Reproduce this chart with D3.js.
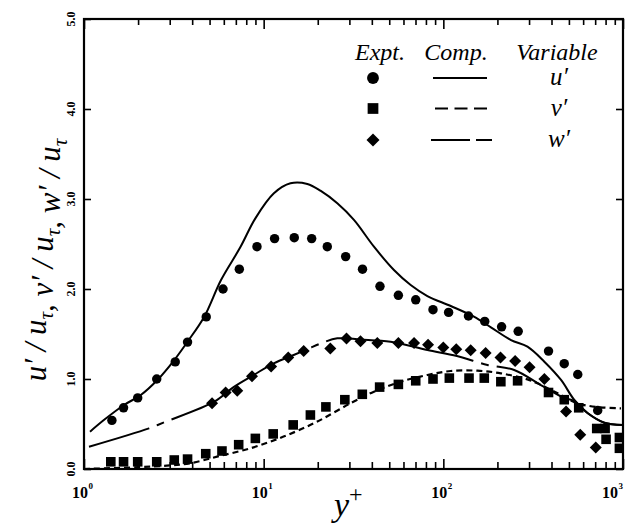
<!DOCTYPE html>
<html><head><meta charset="utf-8">
<script src="https://cdn.jsdelivr.net/npm/d3@7"></script>
<style>body{margin:0;background:#fff}svg{display:block}</style>
</head><body><svg id="c" width="629" height="532"></svg>
<script>
// ---- data ----
const uExptX = [1.43,1.66,1.99,2.54,3.22,3.77,4.79,5.94,7.32,9.18,11.5,14.8,18.5,22.6,28.6,35.5,44.4,56.2,70.2,87.6,107,138,170,211,261,385,471,560,723];
const uExptY = [0.54,0.68,0.79,1.00,1.19,1.41,1.69,2.00,2.22,2.47,2.56,2.57,2.56,2.47,2.36,2.22,2.03,1.93,1.88,1.77,1.74,1.70,1.64,1.58,1.53,1.31,1.17,1.05,0.65];
const vExptX = [1.41,1.66,1.99,2.54,3.18,3.77,4.76,5.86,7.26,8.99,11.3,14.6,18.2,22.2,28.3,35.4,44.2,56.2,70.2,87.6,108,139,169,209,259,385,471,567,714,795,805,955,955];
const vExptY = [0.08,0.08,0.08,0.08,0.10,0.11,0.17,0.20,0.27,0.34,0.39,0.49,0.60,0.69,0.77,0.83,0.91,0.94,0.98,1.00,1.01,1.01,1.01,0.97,0.98,0.85,0.77,0.68,0.45,0.45,0.33,0.35,0.23];
const wExptX = [5.16,6.14,7.13,8.61,11.0,13.7,16.7,23.5,28.9,34.6,42.9,56.2,68.7,82.2,100,118,142,172,208,251,302,365,482,578,705];
const wExptY = [0.73,0.85,0.87,1.03,1.14,1.24,1.31,1.34,1.45,1.42,1.40,1.40,1.40,1.38,1.35,1.33,1.32,1.29,1.24,1.20,1.13,1.00,0.64,0.38,0.24];
const uCompX = [1.08,1.29,1.67,2.07,2.56,3.18,3.77,4.67,5.79,7.41,8.99,11.4,14.1,17.5,20.7,25.7,31.8,41.1,53.1,65.8,81.5,110,148,184,238,294,365,452,536,637,787,997];
const uCompY = [0.415,0.544,0.711,0.822,0.989,1.211,1.415,1.692,2.10,2.463,2.785,3.063,3.174,3.167,3.092,2.952,2.767,2.47,2.211,2.044,1.922,1.811,1.692,1.574,1.433,1.359,1.192,0.989,0.767,0.619,0.514,0.489];
const vCompX = [1.0,2.0,3.0,3.9,5.5,8.43,12.9,19.9,30.4,41.1,57.9,81.5,110,155,209,294,334,433,540,609,750,975];
const vCompY = [0.0,0.02,0.04,0.063,0.137,0.23,0.36,0.527,0.73,0.859,0.97,1.044,1.089,1.092,1.063,0.996,0.952,0.841,0.74,0.71,0.685,0.674];
const wCompX = [1.066,2.30,2.855,5.31,6.8,8.79,11.37,14.69,17.47,21.25,25.7,34.6,50.9,81.5,119,176,248,349,471,533,637,787,997];
const wCompY = [0.248,0.452,0.526,0.748,0.91,1.044,1.174,1.267,1.33,1.403,1.452,1.439,1.414,1.322,1.256,1.156,1.10,0.933,0.789,0.756,0.619,0.514,0.489];
const xMajorTicks = [1,10,100,1000];
const xTickSup = ["0","1","2","3"];
const yTicks = [0,1,2,3,4,5];
const yTickLabels = ["0.0","1.0","2.0","3.0","4.0","5.0"];
const legendHeads = ["Expt.","Comp.","Variable"];
const legendVars = ["u′","v′","w′"];

// ---- layout ----
const svg = d3.select("#c");
const L=84, R=623, T=19, B=469;
const x = d3.scaleLog().domain([1,1000]).range([L,R]);
const y = d3.scaleLinear().domain([0,5]).range([B,T]);
const serif = "'Liberation Serif','Times New Roman',serif";
const xMinorTicks = [];
[1,10,100].forEach(d=>{for(let k=2;k<=9;k++) xMinorTicks.push(d*k);});

svg.append("defs").append("clipPath").attr("id","clip")
  .append("rect").attr("x",L).attr("y",T).attr("width",R-L).attr("height",B-T);

function styleAxis(g){g.select(".domain").remove();g.selectAll(".tick line").attr("stroke","#000").attr("stroke-width",1.6);g.selectAll(".tick text").remove();}
svg.append("g").attr("transform",`translate(0,${B})`).call(d3.axisBottom(x).tickValues(xMajorTicks).tickSize(-10).tickFormat("")).call(styleAxis);
svg.append("g").attr("transform",`translate(0,${B})`).call(d3.axisBottom(x).tickValues(xMinorTicks).tickSize(-7).tickFormat("")).call(styleAxis);
svg.append("g").attr("transform",`translate(0,${T})`).call(d3.axisTop(x).tickValues(xMajorTicks).tickSize(-10).tickFormat("")).call(styleAxis);
svg.append("g").attr("transform",`translate(0,${T})`).call(d3.axisTop(x).tickValues(xMinorTicks).tickSize(-6).tickFormat("")).call(styleAxis);
svg.append("g").attr("transform",`translate(${L},0)`).call(d3.axisLeft(y).tickValues(yTicks).tickSize(-7).tickFormat("")).call(styleAxis);
svg.append("g").attr("transform",`translate(${R},0)`).call(d3.axisRight(y).tickValues(yTicks).tickSize(-7).tickFormat("")).call(styleAxis);

svg.append("rect").attr("x",L).attr("y",T).attr("width",R-L).attr("height",B-T)
  .attr("fill","none").attr("stroke","#000").attr("stroke-width",2.2);

// tick labels
xMajorTicks.forEach((v,i)=>{
  const xe = Math.min(x(v)+4, 618);
  svg.append("text").attr("font-family",serif).attr("font-weight","bold").attr("fill","#000")
    .attr("x",xe).attr("y",498).attr("font-size",16).attr("text-anchor","end").text("10");
  svg.append("text").attr("font-family",serif).attr("font-weight","bold").attr("font-size",9)
    .attr("x",xe+0.5).attr("y",489).text(xTickSup[i]);
});
yTicks.forEach((v,i)=>{
  svg.append("text").attr("transform",`translate(75,${y(v)}) rotate(-90)`)
    .attr("font-family",serif).attr("font-weight","bold").attr("font-size",12)
    .attr("text-anchor","middle").text(yTickLabels[i]);
});

// axis titles
const xt = svg.append("text").attr("font-family",serif).attr("font-style","italic").attr("x",334).attr("y",516);
xt.append("tspan").attr("font-size",34).text("y");
xt.append("tspan").attr("font-size",24).attr("dy",-14).attr("font-style","normal").text("+");

const yt = svg.append("text").attr("font-family",serif).attr("font-style","italic")
  .attr("font-size",31).attr("transform","translate(46,260) rotate(-90)").attr("text-anchor","middle");
["u","v","w"].forEach((c,i)=>{
  yt.append("tspan").text((i? ", ":"")+c+"′ / u");
  yt.append("tspan").attr("font-size",21).attr("dy",7).text("τ");
  yt.append("tspan").attr("dy",-7).text("");
});

// ---- lines ----
const plot = svg.append("g").attr("clip-path","url(#clip)");
function line(xs,ys){return d3.line().x((d,i)=>x(xs[i])).y((d,i)=>y(ys[i])).curve(d3.curveCatmullRom.alpha(0.5))(xs);}
plot.append("path").attr("d",line(uCompX,uCompY)).attr("fill","none").attr("stroke","#000").attr("stroke-width",2);
plot.append("path").attr("d",line(vCompX,vCompY)).attr("fill","none").attr("stroke","#000").attr("stroke-width",2.2).attr("stroke-dasharray","6,4");
plot.append("path").attr("d",line(wCompX,wCompY)).attr("fill","none").attr("stroke","#000").attr("stroke-width",2).attr("stroke-dasharray","150,8,8,8").attr("stroke-dashoffset",87);

// ---- markers ----
const circ = d3.symbol().type(d3.symbolCircle).size(70);
const sq = d3.symbol().type(d3.symbolSquare).size(92);
const dia = d3.symbol().type(d3.symbolSquare).size(72);
plot.selectAll(".u").data(uExptX).join("path").attr("d",circ).attr("fill","#000")
  .attr("transform",(d,i)=>`translate(${x(d)},${y(uExptY[i])})`);
plot.selectAll(".v").data(vExptX).join("path").attr("d",sq).attr("fill","#000")
  .attr("transform",(d,i)=>`translate(${x(d)},${y(vExptY[i])})`);
plot.selectAll(".w").data(wExptX).join("path").attr("d",dia).attr("fill","#000")
  .attr("transform",(d,i)=>`translate(${x(d)},${y(wExptY[i])}) rotate(45)`);

// ---- legend ----
const headX = [380,456,557];
legendHeads.forEach((h,i)=>svg.append("text").attr("x",headX[i]).attr("y",60).attr("font-family",serif)
  .attr("font-style","italic").attr("font-size",24).attr("text-anchor","middle").text(h));
const rows = [78,108.5,140];
svg.append("path").attr("d",d3.symbol().type(d3.symbolCircle).size(110)).attr("transform",`translate(373,${rows[0]})`);
svg.append("path").attr("d",d3.symbol().type(d3.symbolSquare).size(115)).attr("transform",`translate(373,${rows[1]})`);
svg.append("path").attr("d",d3.symbol().type(d3.symbolSquare).size(85)).attr("transform",`translate(373,${rows[2]}) rotate(45)`);
svg.append("line").attr("x1",433).attr("x2",487).attr("y1",rows[0]).attr("y2",rows[0]).attr("stroke","#000").attr("stroke-width",2);
svg.append("line").attr("x1",435).attr("x2",487).attr("y1",rows[1]).attr("y2",rows[1]).attr("stroke","#000").attr("stroke-width",2).attr("stroke-dasharray","13,6.5");
svg.append("line").attr("x1",431).attr("x2",492).attr("y1",rows[2]).attr("y2",rows[2]).attr("stroke","#000").attr("stroke-width",2).attr("stroke-dasharray","39,6,16");
legendVars.forEach((v,i)=>svg.append("text").attr("x",559).attr("y",rows[i]+7).attr("font-family",serif)
  .attr("font-style","italic").attr("font-size",25).attr("text-anchor","middle").text(v));
</script></body></html>
